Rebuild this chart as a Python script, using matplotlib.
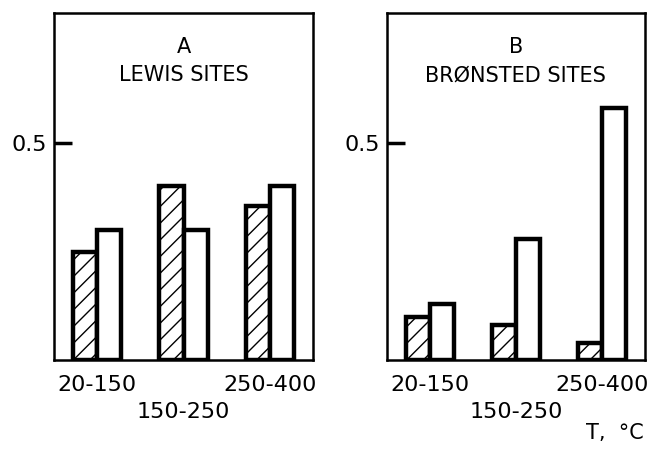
import numpy as np
import matplotlib.pyplot as plt

# temperature ranges
ranges = ["20-150", "150-250", "250-400"]
tick_labels = ["20-150", "\n150-250", "250-400"]

# panel A: Lewis sites
lewis_hatched = [0.25, 0.40, 0.355]
lewis_open = [0.30, 0.30, 0.40]

# panel B: Bronsted sites
bronsted_hatched = [0.10, 0.08, 0.04]
bronsted_open = [0.13, 0.28, 0.58]

plt.rcParams['hatch.linewidth'] = 1.0

fig = plt.figure(figsize=(6.58, 4.51), dpi=100)
axA = fig.add_axes([0.082, 0.202, 0.394, 0.769])
axB = fig.add_axes([0.588, 0.202, 0.392, 0.769])

x = np.arange(len(ranges))
w = 0.28

panels = [
    (axA, lewis_hatched, lewis_open, "A", "LEWIS SITES"),
    (axB, bronsted_hatched, bronsted_open, "B", "BRØNSTED SITES"),
]

for ax, hatched, open_, letter, title in panels:
    ax.bar(x - w / 2, hatched, width=w, facecolor='white', edgecolor='black',
           linewidth=3.2, hatch='//')
    ax.bar(x + w / 2, open_, width=w, facecolor='white', edgecolor='black',
           linewidth=3.2)
    ax.set_xlim(-0.5, 2.5)
    ax.set_ylim(0, 0.80)
    ax.set_yticks([0.5])
    ax.set_yticklabels(["0.5"])
    ax.set_xticks(x)
    ax.set_xticklabels(tick_labels)
    for lab in ax.get_xticklabels():
        lab.set_linespacing(1.45)
    ax.tick_params(axis='x', length=0, labelsize=16, pad=11)
    ax.tick_params(axis='y', direction='in', length=13, width=2.5,
                   labelsize=16, pad=5)
    for s in ax.spines.values():
        s.set_linewidth(1.8)
    ax.text(0.5, 0.902, letter, transform=ax.transAxes, ha='center',
            va='center', fontsize=15)
    ax.text(0.5, 0.821, title, transform=ax.transAxes, ha='center',
            va='center', fontsize=15)

fig.text(0.935, 0.04, "T,  °C", ha='center', va='center', fontsize=15)

fig.savefig("out.png", dpi=100)
